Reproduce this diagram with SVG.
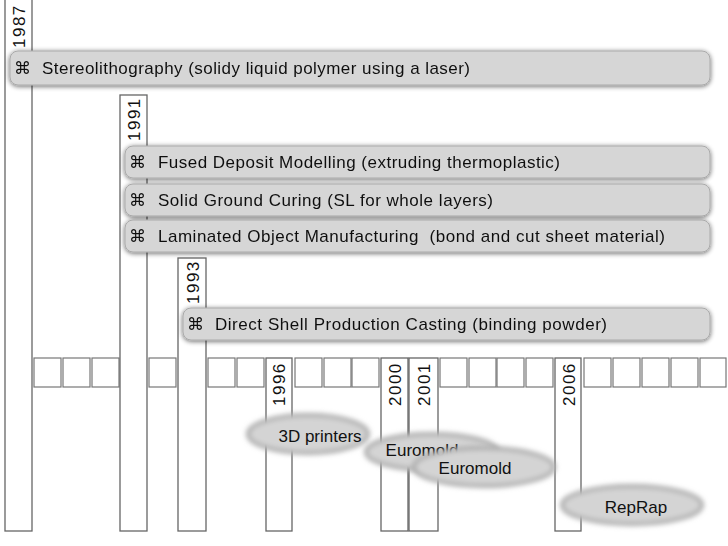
<svg xmlns="http://www.w3.org/2000/svg" width="728" height="546" viewBox="0 0 728 546">
<defs>
<filter id="sh" x="-10%" y="-40%" width="120%" height="180%"><feGaussianBlur in="SourceAlpha" stdDeviation="2.5"/><feOffset dx="0" dy="1"/><feComponentTransfer><feFuncA type="linear" slope="0.6"/></feComponentTransfer><feMerge><feMergeNode/><feMergeNode in="SourceGraphic"/></feMerge></filter>
<filter id="soft" x="-20%" y="-50%" width="140%" height="200%"><feGaussianBlur stdDeviation="2.5"/></filter>
</defs>
<style>
.bar{fill:#fff;stroke:#666;stroke-width:1.3}
.cell{fill:#fff;stroke:#777;stroke-width:1.2}
.ban{fill:#d6d6d6;stroke:#aaa;stroke-width:1}
.el{fill:#d4d4d4;stroke:#aaa;stroke-width:4}
text{font-family:"Liberation Sans",Arial,sans-serif;font-size:17px;fill:#111}
.yr{font-size:17px;letter-spacing:1.5px}
</style>
<rect width="728" height="546" fill="#fff"/>
<g id="cells">
<rect class="cell" x="34" y="358" width="27" height="29"/><rect class="cell" x="63" y="358" width="27" height="29"/><rect class="cell" x="92" y="358" width="27" height="29"/>
<rect class="cell" x="149" y="358" width="27" height="29"/>
<rect class="cell" x="208" y="358" width="27" height="29"/><rect class="cell" x="237" y="358" width="27" height="29"/>
<rect class="cell" x="295" y="358" width="27" height="29"/><rect class="cell" x="324" y="358" width="27" height="29"/><rect class="cell" x="352" y="358" width="27" height="29"/>
<rect class="cell" x="440" y="358" width="27" height="29"/><rect class="cell" x="469" y="358" width="27" height="29"/><rect class="cell" x="497" y="358" width="27" height="29"/><rect class="cell" x="526" y="358" width="27" height="29"/>
<rect class="cell" x="584" y="358" width="27" height="29"/><rect class="cell" x="613" y="358" width="27" height="29"/><rect class="cell" x="642" y="358" width="27" height="29"/><rect class="cell" x="671" y="358" width="27" height="29"/><rect class="cell" x="700" y="358" width="26" height="29"/>
</g>
<g id="y1987"><rect class="bar" x="5" y="-2" width="27" height="533"/><text class="yr" transform="translate(25,48) rotate(-90)">1987</text></g>
<g id="y1991"><rect class="bar" x="120" y="95" width="27" height="436"/><text class="yr" transform="translate(140,141) rotate(-90)">1991</text></g>
<g id="y1993"><rect class="bar" x="178" y="258" width="28" height="273"/><text class="yr" transform="translate(199,304) rotate(-90)">1993</text></g>
<g id="y1996"><rect class="bar" x="266" y="358" width="26" height="173"/><text class="yr" transform="translate(285,406) rotate(-90)">1996</text></g>
<g id="y2000"><rect class="bar" x="381" y="358" width="27" height="173"/><text class="yr" transform="translate(401,406) rotate(-90)">2000</text></g>
<g id="y2001"><rect class="bar" x="409" y="358" width="29" height="173"/><text class="yr" transform="translate(430,406) rotate(-90)">2001</text></g>
<g id="y2006"><rect class="bar" x="555" y="358" width="26" height="173"/><text class="yr" transform="translate(575,406) rotate(-90)">2006</text></g>
<g id="sl" filter="url(#sh)"><rect class="ban" x="10" y="51" width="700" height="34" rx="8"/><text x="14" y="74">⌘</text><text x="42" y="74" textLength="428">Stereolithography (solidy liquid polymer using a laser)</text></g>
<g id="fdm" filter="url(#sh)"><rect class="ban" x="125" y="146" width="585" height="32" rx="8"/><text x="129" y="168">⌘</text><text x="158" y="168" textLength="402">Fused Deposit Modelling (extruding thermoplastic)</text></g>
<g id="sgc" filter="url(#sh)"><rect class="ban" x="125" y="184" width="585" height="32" rx="8"/><text x="129" y="206">⌘</text><text x="158" y="206" textLength="335">Solid Ground Curing (SL for whole layers)</text></g>
<g id="lom" filter="url(#sh)"><rect class="ban" x="125" y="220" width="585" height="32" rx="8"/><text x="129" y="242">⌘</text><text x="158" y="242" textLength="507" xml:space="preserve">Laminated Object Manufacturing  (bond and cut sheet material)</text></g>
<g id="dspc" filter="url(#sh)"><rect class="ban" x="183" y="308" width="527" height="32" rx="8"/><text x="187" y="330">⌘</text><text x="215" y="330" textLength="392">Direct Shell Production Casting (binding powder)</text></g>
<g id="e3d"><ellipse class="el" cx="308" cy="434" rx="60" ry="19" filter="url(#soft)"/><text x="320" y="442" text-anchor="middle">3D printers</text></g>
<g id="eu1"><ellipse class="el" cx="432" cy="452" rx="66" ry="18" filter="url(#soft)"/><text x="422" y="456" text-anchor="middle">Euromold</text></g>
<g id="eu2"><ellipse class="el" cx="484" cy="467" rx="70" ry="19" filter="url(#soft)"/><text x="475" y="474" text-anchor="middle">Euromold</text></g>
<g id="rr"><ellipse class="el" cx="632" cy="505" rx="70" ry="19" filter="url(#soft)"/><text x="636" y="513" text-anchor="middle">RepRap</text></g>
</svg>
